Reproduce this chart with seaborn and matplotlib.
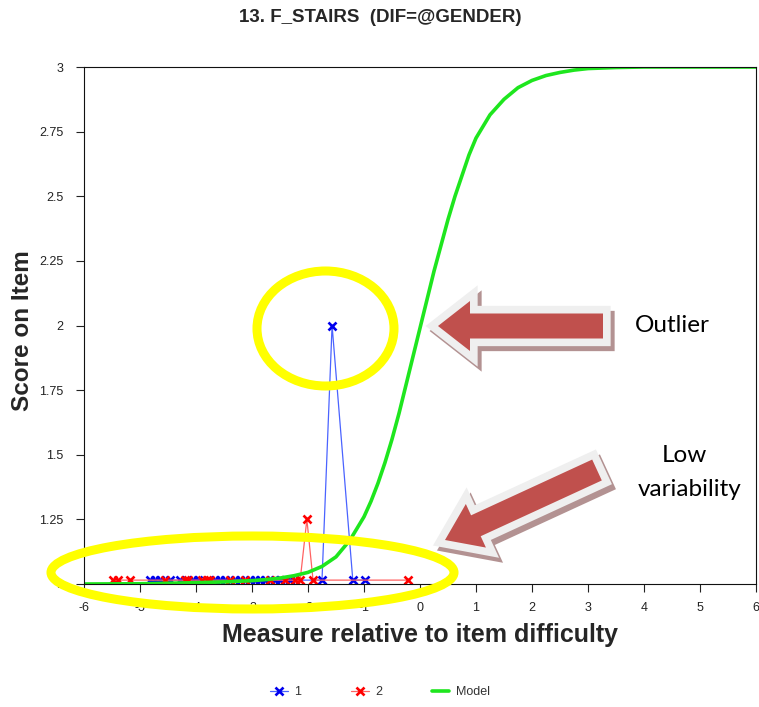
import matplotlib
matplotlib.use("Agg")
import matplotlib.pyplot as plt
import seaborn as sns
import pandas as pd
from matplotlib.patches import Ellipse, FancyArrow

# --- data ---
grp1_x = [-4.82, -4.73, -4.64, -4.46, -4.29, -4.05, -3.96, -3.66, -3.57, -3.48, -3.30, -3.21,
          -3.04, -2.95, -2.86, -2.77, -2.59, -2.50, -2.32, -1.75, -1.57, -1.20, -0.98]
grp1_y = [1.015, 1.015, 1.015, 1.015, 1.015, 1.015, 1.015, 1.015, 1.015, 1.015, 1.015, 1.015,
          1.015, 1.015, 1.015, 1.015, 1.015, 1.015, 1.015, 1.015, 2.0, 1.015, 1.015]
grp2_x = [-5.48, -5.39, -5.18, -4.55, -4.20, -4.14, -3.89, -3.80, -3.75, -3.39, -3.13, -2.68,
          -2.41, -2.23, -2.14, -2.02, -1.91, -0.21]
grp2_y = [1.015, 1.015, 1.015, 1.015, 1.015, 1.015, 1.015, 1.015, 1.015, 1.015, 1.015, 1.015,
          1.015, 1.015, 1.015, 1.25, 1.015, 1.015]
model_x = [-6, -5, -4.5, -4, -3.5, -3, -2.75, -2.5, -2.25, -2, -1.75, -1.5, -1.25, -1, -0.875,
           -0.75, -0.625, -0.5, -0.375, -0.25, -0.125, 0, 0.125, 0.25, 0.375, 0.5, 0.625, 0.75,
           0.875, 1, 1.25, 1.5, 1.75, 2, 2.25, 2.5, 2.75, 3, 3.5, 4, 5, 6]
model_y = [1.0, 1.001, 1.003, 1.005, 1.008, 1.013, 1.017, 1.023, 1.032, 1.045, 1.068, 1.105,
           1.17, 1.26, 1.32, 1.39, 1.47, 1.56, 1.66, 1.77, 1.88, 1.99, 2.10, 2.21, 2.31, 2.41,
           2.50, 2.58, 2.66, 2.725, 2.815, 2.875, 2.92, 2.948, 2.967, 2.979, 2.988, 2.994,
           2.998, 3.0, 3.0, 3.0]
x_ticks = [-6, -5, -4, -3, -2, -1, 0, 1, 2, 3, 4, 5, 6]
y_ticks = [1, 1.25, 1.5, 1.75, 2, 2.25, 2.5, 2.75, 3]
y_tick_labels = ["1", "1.25", "1.5", "1.75", "2", "2.25", "2.5", "2.75", "3"]

df1 = pd.DataFrame({"x": grp1_x, "y": grp1_y})
df2 = pd.DataFrame({"x": grp2_x, "y": grp2_y})
dfm = pd.DataFrame({"x": model_x, "y": model_y})

sns.set_style("white")
plt.rcParams["font.family"] = ["Liberation Sans", "DejaVu Sans"]

fig = plt.figure(figsize=(7.59, 7.07), dpi=100)
ax = fig.add_axes([84 / 759, 123 / 707, 672 / 759, 517 / 707])

# === series ===
sns.lineplot(data=df1, x="x", y="y", ax=ax, estimator=None, sort=True, color="#4a63ff",
             linewidth=0.9, marker="x", markersize=6, markeredgewidth=1.9,
             markeredgecolor="#0000ee", label="1")
sns.lineplot(data=df2, x="x", y="y", ax=ax, estimator=None, sort=True, color="#ff6262",
             linewidth=0.9, marker="x", markersize=6, markeredgewidth=1.9,
             markeredgecolor="#ff0000", label="2")
sns.lineplot(data=dfm, x="x", y="y", ax=ax, estimator=None, sort=True, color="#1ee61e",
             linewidth=2.6, label="Model")

ax.set_xlim(-6, 6)
ax.set_ylim(1, 3)
ax.set_xticks(x_ticks)
ax.set_xticklabels([str(t) for t in x_ticks])
ax.set_yticks(y_ticks)
ax.set_yticklabels(y_tick_labels)
ax.tick_params(axis="both", direction="out", length=6, width=0.8, colors="#222222",
               labelsize=9, bottom=True, left=True)
ax.tick_params(axis="x", pad=7)
ax.tick_params(axis="y", pad=9)
for s in ax.spines.values():
    s.set_color("#111111")
    s.set_linewidth(0.8)

ax.set_xlabel("Measure relative to item difficulty", fontsize=18, fontweight="bold", va="center")
ax.xaxis.set_label_coords(0.5, -0.0986)
ax.set_ylabel("Score on Item", fontsize=17.5, fontweight="bold", va="center")
ax.yaxis.set_label_coords(-0.092, 0.491)

fig.text(380 / 759, 1 - 18 / 707, "13. F_STAIRS  (DIF=@GENDER)", ha="center", va="center",
         fontsize=13.5, fontweight="bold")

handles, labels = ax.get_legend_handles_labels()
ax.get_legend().remove()
fig.legend(handles, labels, loc="center", bbox_to_anchor=(380 / 759, 1 - 692 / 707), ncol=3,
           frameon=False, fontsize=9, handlelength=1.4, handletextpad=0.5, columnspacing=4.0,
           labelcolor="#333333")

# === overlay annotations in pixel space ===
ov = fig.add_axes([0, 0, 1, 1], zorder=5)
ov.set_xlim(0, 759)
ov.set_ylim(707, 0)
ov.axis("off")
ov.patch.set_alpha(0)

ov.add_patch(Ellipse((325.5, 328.5), 137, 115, fill=False, edgecolor="#ffff00", linewidth=6.5))
ov.add_patch(Ellipse((252.5, 572.5), 403, 73, fill=False, edgecolor="#ffff00", linewidth=6.5))


def block_arrow(x0, y0, x1, y1, w, hw, hl):
    kw = dict(width=w, head_width=hw, head_length=hl, length_includes_head=True)
    ov.add_patch(FancyArrow(x0 + 4, y0 + 5, x1 - x0, y1 - y0, facecolor="#b39292",
                            edgecolor="#b39292", linewidth=11, joinstyle="miter", **kw))
    ov.add_patch(FancyArrow(x0, y0, x1 - x0, y1 - y0, facecolor="#efefef",
                            edgecolor="#efefef", linewidth=11, joinstyle="miter", **kw))
    ov.add_patch(FancyArrow(x0, y0, x1 - x0, y1 - y0, facecolor="#c0504d",
                            edgecolor="none", **kw))


block_arrow(603, 326, 438, 326, 25, 50, 32)
block_arrow(597, 470, 445, 540, 23, 48, 34)

ov.text(672, 325, "Outlier", ha="center", va="center", fontsize=17.5, family="Lato", color="black")
ov.text(684, 455, "Low", ha="center", va="center", fontsize=17.5, family="Lato", color="black")
ov.text(690, 490, "variability", ha="center", va="center", fontsize=17.5, family="Lato",
        color="black")

fig.savefig("out.png", dpi=100, facecolor="white")
